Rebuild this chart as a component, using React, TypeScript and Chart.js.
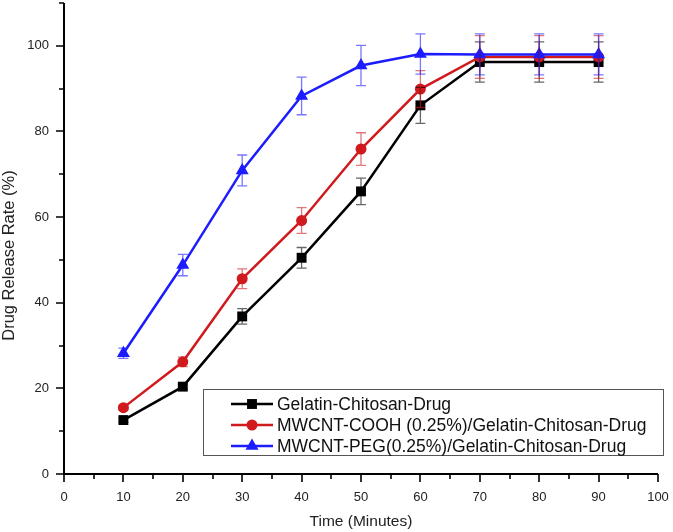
import React, { useEffect, useRef } from "react";
import { Chart, registerables } from "chart.js";

Chart.register(...registerables);

const timePoints = [10, 20, 30, 40, 50, 60, 70, 80, 90];
const seriesNames = [
  "Gelatin-Chitosan-Drug",
  "MWCNT-COOH (0.25%)/Gelatin-Chitosan-Drug",
  "MWCNT-PEG(0.25%)/Gelatin-Chitosan-Drug",
];
const gelatinValues = [12.6, 20.4, 36.8, 50.5, 66.0, 86.1, 96.2, 96.2, 96.2];
const gelatinErrors = [0.5, 0.6, 1.8, 2.4, 3.1, 4.2, 4.7, 4.7, 4.7];
const coohValues = [15.5, 26.2, 45.6, 59.2, 75.9, 89.9, 97.4, 97.4, 97.4];
const coohErrors = [0.5, 1.1, 2.3, 3.0, 3.8, 4.3, 5.0, 5.0, 5.0];
const pegValues = [28.2, 48.8, 70.9, 88.3, 95.4, 98.1, 98.0, 98.0, 98.0];
const pegErrors = [1.2, 2.5, 3.6, 4.4, 4.7, 4.7, 4.8, 4.8, 4.8];
const xTickLabels = ["0", "10", "20", "30", "40", "50", "60", "70", "80", "90", "100"];
const yTickLabels = ["0", "20", "40", "60", "80", "100"];
const xTitle = "Time (Minutes)";
const yTitle = "Drug Release Rate (%)";

const FONT = "'Liberation Sans', Arial, sans-serif";
const BLACK = "#000000";
const RED = "rgb(208,26,30)";
const BLUE = "rgb(28,28,255)";

const errorData = [gelatinErrors, coohErrors, pegErrors];

const errorBarPlugin = {
  id: "errorBars",
  afterDatasetsDraw(chart: any) {
    const ctx = chart.ctx;
    const xs = chart.scales.x;
    const ys = chart.scales.y;
    ctx.save();
    chart.data.datasets.forEach((ds: any, i: number) => {
      const errs = errorData[i];
      ctx.strokeStyle = ds.borderColor;
      ctx.globalAlpha = 0.6;
      ctx.lineWidth = 1.3;
      ds.data.forEach((p: any, j: number) => {
        const px = xs.getPixelForValue(p.x);
        const top = ys.getPixelForValue(p.y + errs[j]);
        const bot = ys.getPixelForValue(p.y - errs[j]);
        ctx.beginPath();
        ctx.moveTo(px, top);
        ctx.lineTo(px, bot);
        ctx.moveTo(px - 5, top);
        ctx.lineTo(px + 5, top);
        ctx.moveTo(px - 5, bot);
        ctx.lineTo(px + 5, bot);
        ctx.stroke();
      });
    });
    ctx.restore();
  },
};

const axesPlugin = {
  id: "originAxes",
  afterDraw(chart: any) {
    const ctx = chart.ctx;
    const xs = chart.scales.x;
    const ys = chart.scales.y;
    const area = chart.chartArea;
    ctx.save();
    ctx.strokeStyle = "#000";
    ctx.lineWidth = 2;
    ctx.beginPath();
    ctx.moveTo(area.left, area.top);
    ctx.lineTo(area.left, area.bottom);
    ctx.lineTo(area.right, area.bottom);
    ctx.stroke();
    ctx.lineWidth = 1.6;
    ctx.beginPath();
    xs.ticks.forEach((t: any) => {
      const px = Math.round(xs.getPixelForValue(t.value));
      const len = t.value % 10 === 0 ? 8 : 5;
      ctx.moveTo(px, area.bottom);
      ctx.lineTo(px, area.bottom + len);
    });
    ys.ticks.forEach((t: any) => {
      const py = Math.round(ys.getPixelForValue(t.value));
      const len = t.value % 20 === 0 ? 8 : 5;
      ctx.moveTo(area.left, py);
      ctx.lineTo(area.left - len, py);
    });
    ctx.stroke();
    // y axis title
    ctx.translate(9, (area.top + area.bottom) / 2 + 17);
    ctx.rotate(-Math.PI / 2);
    ctx.fillStyle = "#222";
    ctx.font = `16.5px ${FONT}`;
    ctx.textAlign = "center";
    ctx.textBaseline = "middle";
    ctx.fillText(yTitle, 0, 0);
    ctx.restore();
  },
};

function drawMarker(ctx: CanvasRenderingContext2D, style: string, r: number, x: number, y: number) {
  ctx.beginPath();
  if (style === "rect") {
    const s = Math.SQRT1_2 * r;
    ctx.rect(x - s, y - s, 2 * s, 2 * s);
  } else if (style === "triangle") {
    ctx.moveTo(x, y - r);
    ctx.lineTo(x + r * 0.866, y + r / 2);
    ctx.lineTo(x - r * 0.866, y + r / 2);
    ctx.closePath();
  } else {
    ctx.arc(x, y, r, 0, Math.PI * 2);
  }
  ctx.fill();
}

const legendPlugin = {
  id: "boxLegend",
  afterDraw(chart: any) {
    const ctx = chart.ctx;
    const area = chart.chartArea;
    const left = area.left + 139;
    const right = area.right + 5;
    const bottom = area.bottom - 19;
    const top = bottom - 66;
    ctx.save();
    ctx.fillStyle = "#fff";
    ctx.fillRect(left, top, right - left, bottom - top);
    ctx.strokeStyle = "#555";
    ctx.lineWidth = 1;
    ctx.strokeRect(left + 0.5, top + 0.5, right - left, bottom - top);
    ctx.font = `17.5px ${FONT}`;
    ctx.textBaseline = "middle";
    chart.data.datasets.forEach((ds: any, i: number) => {
      const cy = top + 15 + i * 21;
      ctx.strokeStyle = ds.borderColor;
      ctx.lineWidth = 2.5;
      ctx.beginPath();
      ctx.moveTo(left + 28, cy);
      ctx.lineTo(left + 70, cy);
      ctx.stroke();
      ctx.fillStyle = ds.backgroundColor;
      drawMarker(ctx, ds.pointStyle, ds.pointRadius, left + 49, cy);
      ctx.fillStyle = "#111";
      ctx.fillText(ds.label, left + 74, cy + 1);
    });
    ctx.restore();
  },
};

function toPoints(vals: number[]) {
  return vals.map((v, i) => ({ x: timePoints[i], y: v }));
}

export default function App() {
  const canvasRef = useRef<HTMLCanvasElement | null>(null);

  useEffect(() => {
    if (!canvasRef.current) return;
    const chart = new Chart(canvasRef.current, {
      type: "line",
      data: {
        datasets: [
          {
            label: seriesNames[0],
            data: toPoints(gelatinValues),
            borderColor: BLACK,
            backgroundColor: BLACK,
            pointStyle: "rect",
            pointRadius: 7,
            pointBorderWidth: 0,
            borderWidth: 2.5,
            order: 3,
          },
          {
            label: seriesNames[1],
            data: toPoints(coohValues),
            borderColor: RED,
            backgroundColor: RED,
            pointStyle: "circle",
            pointRadius: 5.5,
            pointBorderWidth: 0,
            borderWidth: 2.5,
            order: 2,
          },
          {
            label: seriesNames[2],
            data: toPoints(pegValues),
            borderColor: BLUE,
            backgroundColor: BLUE,
            pointStyle: "triangle",
            pointRadius: 7.5,
            pointBorderWidth: 0,
            borderWidth: 2.5,
            order: 1,
          },
        ] as any,
      },
      options: {
        animation: false,
        responsive: false,
        maintainAspectRatio: false,
        layout: { autoPadding: false, padding: { top: 3, right: 15, left: 0, bottom: 0 } },
        plugins: {
          legend: { display: false },
          tooltip: { enabled: false },
        },
        scales: {
          x: {
            type: "linear",
            min: 0,
            max: 100,
            grid: { display: false, drawTicks: false, tickLength: 0 },
            border: { display: false },
            ticks: {
              stepSize: 5,
              autoSkip: false,
              maxRotation: 0,
              padding: 16,
              color: "#222",
              font: { family: FONT, size: 13 },
              callback: (v: any) => {
                const s = String(v);
                return xTickLabels.includes(s) ? s : "";
              },
            },
            title: {
              display: true,
              text: xTitle,
              color: "#222",
              font: { family: FONT, size: 15.5 },
              padding: { top: 0, bottom: 1 },
            },
            afterFit: (s: any) => {
              s.height = 58;
              s.paddingLeft = 0;
              s.paddingRight = 0;
            },
          },
          y: {
            type: "linear",
            min: 0,
            max: 110,
            grid: { display: false, drawTicks: false, tickLength: 0 },
            border: { display: false },
            ticks: {
              stepSize: 10,
              autoSkip: false,
              padding: 15,
              color: "#222",
              font: { family: FONT, size: 13 },
              callback: (v: any) => {
                const s = String(v);
                return yTickLabels.includes(s) ? s : "";
              },
            },
            title: { display: false },
            afterFit: (s: any) => {
              s.width = 64;
              s.paddingTop = 0;
              s.paddingBottom = 0;
            },
          },
        },
      } as any,
      plugins: [errorBarPlugin, axesPlugin, legendPlugin],
    });
    return () => chart.destroy();
  }, []);

  return (
    <div style={{ position: "absolute", left: 0, top: 0, width: 673, height: 532, background: "#fff" }}>
      <canvas ref={canvasRef} width={673} height={532} style={{ width: 673, height: 532 }} />
    </div>
  );
}
